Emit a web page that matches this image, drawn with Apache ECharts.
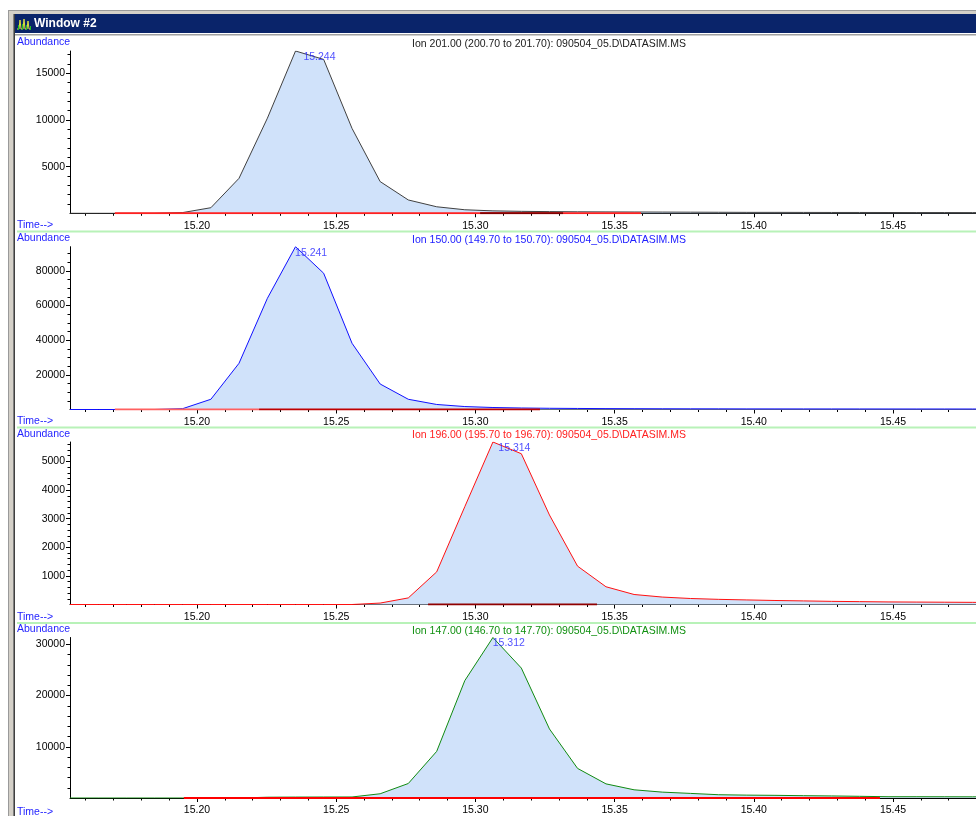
<!DOCTYPE html>
<html><head><meta charset="utf-8">
<style>html,body{margin:0;padding:0;background:#fff}#c{width:976px;height:816px}</style>
<script src="https://cdn.jsdelivr.net/npm/echarts@6/dist/echarts.min.js"></script>
</head><body><div id="c"></div>
<script>
// ---- data ----
const times = [15.1544,15.1645,15.1746,15.1848,15.1949,15.2050,15.2151,15.2253,15.2354,15.2455,15.2557,15.2658,15.2759,15.2861,15.2962,15.3063,15.3165,15.3266,15.3367,15.3469,15.3570,15.3671,15.3772,15.3874,15.3975,15.4076,15.4178,15.4279,15.4380,15.4482,15.4583,15.4684,15.4786,15.4887];
const ion201 = [0,0,0,0,80,600,3750,10200,17400,16500,9100,3400,1430,700,380,260,210,180,160,150,140,130,120,110,100,100,95,90,90,85,80,80,75,75];
const ion150 = [0,0,0,0,500,5900,26650,64150,93900,78600,38200,14700,5900,2900,1700,1150,870,700,600,520,470,430,400,380,360,350,340,330,320,310,300,300,290,280];
const ion196 = [0,0,0,0,0,0,0,0,0,0,0,50,230,1140,3420,5680,5270,3130,1340,620,350,260,210,180,160,140,126,110,100,90,85,80,75,70];
const ion147 = [0,0,0,0,0,0,0,150,180,190,200,830,2830,9110,22930,31350,25380,13490,5780,2760,1600,1150,900,640,560,520,450,400,330,250,250,240,230,230];
const panelTitles = [
  'Ion 201.00 (200.70 to 201.70): 090504_05.D\\DATASIM.MS',
  'Ion 150.00 (149.70 to 150.70): 090504_05.D\\DATASIM.MS',
  'Ion 196.00 (195.70 to 196.70): 090504_05.D\\DATASIM.MS',
  'Ion 147.00 (146.70 to 147.70): 090504_05.D\\DATASIM.MS'
];
const peakRT = [15.244, 15.241, 15.314, 15.312];
const xMajorTicks = [15.20,15.25,15.30,15.35,15.40,15.45];
const xMinorTicks = [15.16,15.17,15.18,15.19,15.21,15.22,15.23,15.24,15.26,15.27,15.28,15.29,15.31,15.32,15.33,15.34,15.36,15.37,15.38,15.39,15.41,15.42,15.43,15.44,15.46,15.47];
const yMajor1 = [5000,10000,15000];
const yMinor1 = [1000,2000,3000,4000,6000,7000,8000,9000,11000,12000,13000,14000,16000,17000];
const yMajor2 = [20000,40000,60000,80000];
const yMinor2 = [5000,10000,15000,25000,30000,35000,45000,50000,55000,65000,70000,75000,85000,90000];
const yMajor3 = [1000,2000,3000,4000,5000];
const yMinor3 = [200,400,600,800,1200,1400,1600,1800,2200,2400,2600,2800,3200,3400,3600,3800,4200,4400,4600,4800,5200,5400,5600];
const yMajor4 = [10000,20000,30000];
const yMinor4 = [2000,4000,6000,8000,12000,14000,16000,18000,22000,24000,26000,28000];
// integration baselines: [start, end, colour]
const baseline1 = [[15.1705,15.3595,'#ff2020'],[15.3017,15.3315,'#800000']];
const baseline2 = [[15.1705,15.2223,'#ff6060'],[15.2223,15.3232,'#c00000']];
const baseline3 = [[15.2830,15.3437,'#900000']];
const baseline4 = [[15.1953,15.4453,'#ff0000']];

// ---- layout / style ----
const FONT = 'Liberation Sans';
const X_MIN = 15.1544, X_MAX = 15.4798;
const panelBox = [{top:51, bottom:213.3},{top:246.7, bottom:409.5},{top:442, bottom:604.5},{top:637.5, bottom:800.2}];
const series = [ion201, ion150, ion196, ion147];
const lineColors = ['#404040','#1010ff','#ff1010','#108a10'];
const titleColors = ['#202020','#2020ff','#ff2020','#109010'];
const yMaj = [yMajor1,yMajor2,yMajor3,yMajor4];
const yMin = [yMinor1,yMinor2,yMinor3,yMinor4];
const baselines = [baseline1,baseline2,baseline3,baseline4];
const BLUE = '#2424ff';

const grids=[], xAxes=[], yAxes=[], ser=[], gfx=[];
panelBox.forEach((p,i)=>{
  grids.push({left:70, right:0, top:p.top, height:p.bottom-p.top, containLabel:false});
  const yMax = Math.max(...series[i]);
  xAxes.push({type:'value', gridIndex:i, position:'bottom', min:X_MIN, max:X_MAX,
    axisLine:{show:true, onZero:false, lineStyle:{color:'#000', width:1}},
    axisTick:{show:true, customValues:xMajorTicks, length:4, lineStyle:{color:'#000'}},
    axisLabel:{show:true, customValues:xMajorTicks, formatter:v=>v.toFixed(2), margin:7, color:'#000', fontSize:10.5, fontFamily:FONT},
    splitLine:{show:false}});
  xAxes.push({type:'value', gridIndex:i, position:'bottom', min:X_MIN, max:X_MAX,
    axisLine:{show:false}, axisLabel:{show:false}, splitLine:{show:false},
    axisTick:{show:true, customValues:xMinorTicks, length:2.5, lineStyle:{color:'#000'}}});
  yAxes.push({type:'value', gridIndex:i, position:'left', min:0, max:yMax,
    axisLine:{show:true, onZero:false, lineStyle:{color:'#000', width:1}},
    axisTick:{show:true, customValues:yMaj[i], length:4, lineStyle:{color:'#000'}},
    axisLabel:{show:true, customValues:yMaj[i], formatter:v=>String(Math.round(v)), margin:5, color:'#000', fontSize:10.5, fontFamily:FONT},
    splitLine:{show:false}});
  yAxes.push({type:'value', gridIndex:i, position:'left', min:0, max:yMax,
    axisLine:{show:false}, axisLabel:{show:false}, splitLine:{show:false},
    axisTick:{show:true, customValues:yMin[i], length:2.5, lineStyle:{color:'#000'}}});
  ser.push({type:'line', xAxisIndex:2*i, yAxisIndex:2*i, data:times.map((t,k)=>[t,series[i][k]]),
    symbol:'none', smooth:false, z:2, lineStyle:{color:lineColors[i], width:1},
    areaStyle:{color:'#d0e2fa', opacity:1}, silent:true});
  baselines[i].forEach(b=>{
    ser.push({type:'line', xAxisIndex:2*i, yAxisIndex:2*i, data:[[b[0],0],[b[1],0]],
      symbol:'none', z:3, lineStyle:{color:b[2], width:2}, silent:true});
  });
  ser.push({type:'scatter', xAxisIndex:2*i, yAxisIndex:2*i, data:[[peakRT[i], yMax]],
    symbolSize:1, itemStyle:{color:'rgba(0,0,0,0)'}, z:4, silent:true,
    label:{show:true, position:'bottom', distance:0, formatter:()=>peakRT[i].toFixed(3), color:BLUE, fontSize:10.5, fontFamily:FONT}});
  // texts
  const off = [0,196,391.5,587][i];
  gfx.push({type:'text', x:17, y:42.5+off, style:{text:'Abundance', fill:BLUE, font:'10.5px '+FONT, textVerticalAlign:'middle'}});
  gfx.push({type:'text', x:17, y:225.5+off, style:{text:'Time-->', fill:BLUE, font:'10.5px '+FONT, textVerticalAlign:'middle'}});
  gfx.push({type:'text', x:549, y:44+off, style:{text:panelTitles[i], fill:titleColors[i], font:'10.5px '+FONT, textAlign:'center', textVerticalAlign:'middle'}});
  if(i<3) gfx.push({type:'rect', shape:{x:17, y:230.5+off, width:959, height:2}, style:{fill:'#b8f2b8'}});
});

// window chrome
gfx.push({type:'rect', shape:{x:8, y:10, width:968, height:4}, style:{fill:'#d4d0c8'}});
gfx.push({type:'rect', shape:{x:8, y:10, width:7, height:806}, style:{fill:'#d4d0c8'}});
gfx.push({type:'rect', shape:{x:8, y:10, width:968, height:1}, style:{fill:'#9a9a9a'}});
gfx.push({type:'rect', shape:{x:8, y:10, width:1, height:806}, style:{fill:'#9a9a9a'}});
gfx.push({type:'rect', shape:{x:13, y:14, width:1, height:802}, style:{fill:'#808080'}});
gfx.push({type:'rect', shape:{x:14, y:14, width:1, height:802}, style:{fill:'#404040'}});
gfx.push({type:'rect', shape:{x:15, y:14, width:961, height:19}, style:{fill:'#0a246a'}});
gfx.push({type:'rect', shape:{x:15, y:34, width:961, height:1.5}, style:{fill:'#a0a0a0'}});
// icon
gfx.push({type:'rect', shape:{x:17, y:16, width:14, height:15}, style:{fill:'#0a246a'}});
gfx.push({type:'polyline', shape:{points:[[17,29],[19,29],[20,20],[21,29],[23,29],[24,19],[25,29],[27,29],[28,21],[29,29],[31,29]]}, style:{stroke:'#e0e040', fill:null, lineWidth:1}});
gfx.push({type:'rect', shape:{x:18, y:25, width:1, height:5}, style:{fill:'#20c020'}});
gfx.push({type:'rect', shape:{x:22, y:24, width:1, height:6}, style:{fill:'#20c020'}});
gfx.push({type:'rect', shape:{x:26, y:25, width:1, height:5}, style:{fill:'#20c020'}});
gfx.push({type:'rect', shape:{x:30, y:26, width:1, height:4}, style:{fill:'#20c020'}});
gfx.push({type:'text', x:34, y:24, style:{text:'Window #2', fill:'#fff', font:'bold 12px '+FONT, textVerticalAlign:'middle'}});

const chart = echarts.init(document.getElementById('c'), null, {renderer:'canvas'});
chart.setOption({animation:false, backgroundColor:'#fff', grid:grids, xAxis:xAxes, yAxis:yAxes, series:ser, graphic:{elements:gfx}});
</script></body></html>
